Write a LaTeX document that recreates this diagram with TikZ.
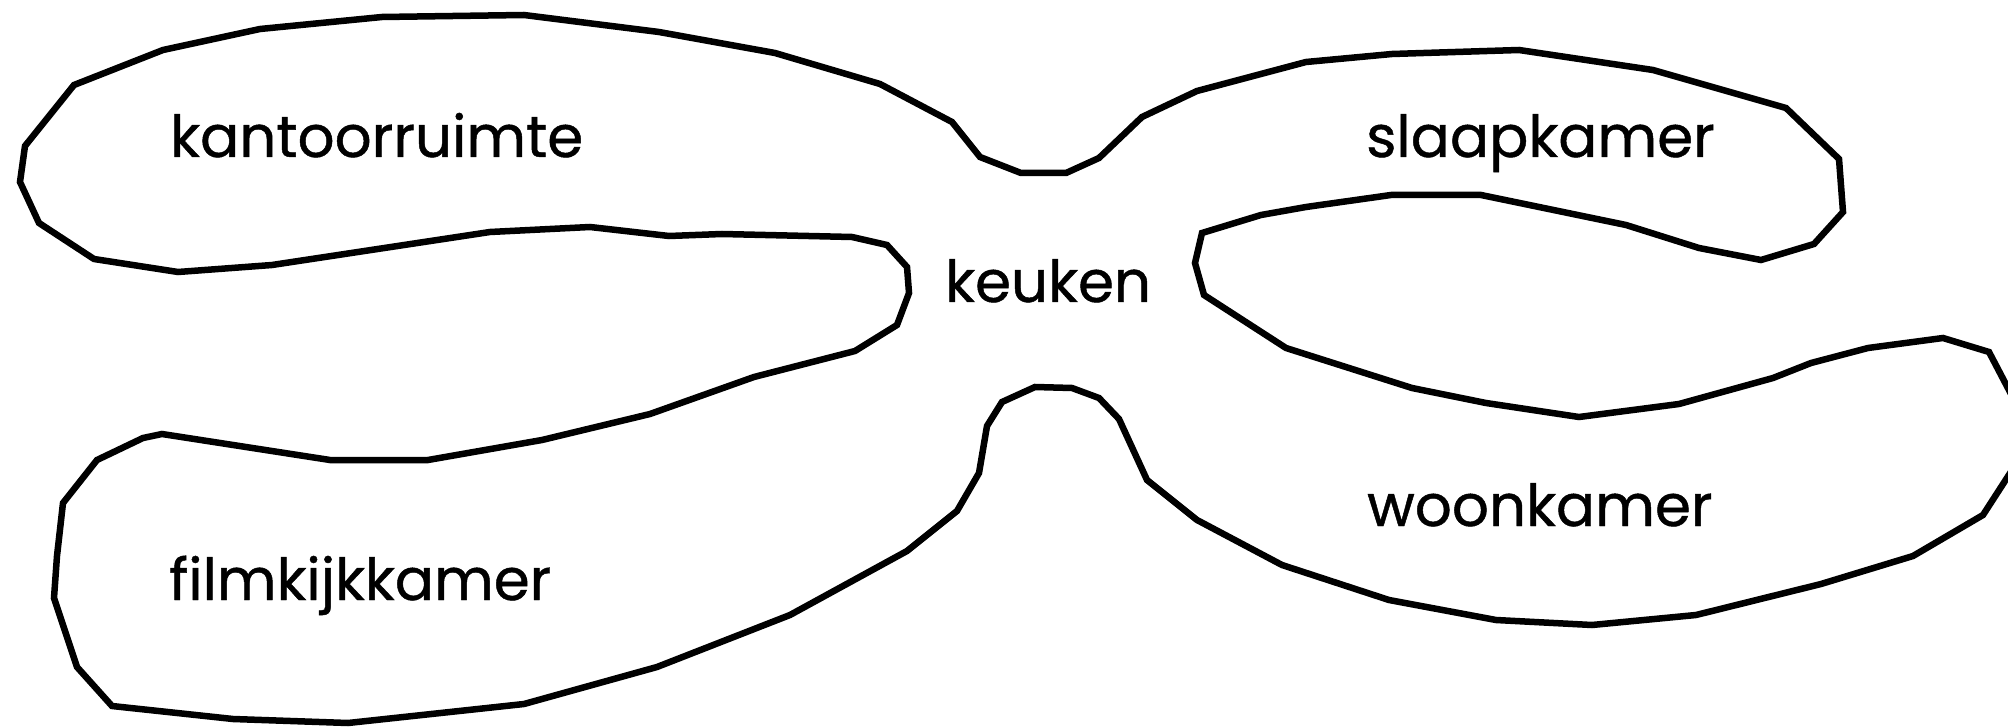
\documentclass[tikz,border=0pt]{standalone}
\usepackage{fontspec}
\setmainfont{Poppins}
\newfontfamily\roomfont{Poppins}[FakeBold=0.8]
\begin{document}
\begin{tikzpicture}[x=1pt,y=-1pt,
  outline/.style={draw=black,line width=6.5pt},
  room/.style={anchor=base west,inner sep=0pt,font=\roomfont\fontsize{58}{60}\selectfont}]
\useasboundingbox (0,0) rectangle (2008,727);
\begin{scope}
\clip (0,0) rectangle (2008,727);
\draw[outline] (1066,173) -- (1021,173) -- (980,157) -- (952,122) -- (880,84) -- (775,53)
 -- (659,32) -- (524,15) -- (382,17) -- (260,29) -- (163,50) -- (74,85) -- (25,146)
 -- (20,182) -- (39,223) -- (94,259) -- (178,272) -- (272,265) -- (490,232) -- (590,227)
 -- (669,236) -- (722,234) -- (852,237) -- (887,245) -- (907,267) -- (909,293) -- (897,325)
 -- (855,351) -- (754,377) -- (650,414) -- (542,440) -- (428,460) -- (330,460) -- (162,434)
 -- (143,438) -- (97,460) -- (63,503) -- (57,556) -- (54,598) -- (77,667) -- (112,706)
 -- (233,719) -- (348,723) -- (524,704) -- (657,667) -- (790,615) -- (907,551) -- (957,511)
 -- (979,473) -- (987,426) -- (1002,402) -- (1035,387) -- (1072,388) -- (1099,398)
 -- (1119,419) -- (1147,480) -- (1197,520) -- (1282,565) -- (1389,600) -- (1496,620)
 -- (1592,625) -- (1696,615) -- (1821,584) -- (1913,556) -- (1983,515) -- (2025,450)
 -- (2022,415) -- (1989,352) -- (1943,338) -- (1868,348) -- (1811,363) -- (1773,378)
 -- (1679,404) -- (1579,417) -- (1486,403) -- (1412,388) -- (1286,348) -- (1204,295)
 -- (1195,263) -- (1202,233) -- (1261,215) -- (1306,207) -- (1391,195) -- (1481,195)
 -- (1626,225) -- (1699,248) -- (1761,260) -- (1814,244) -- (1843,212) -- (1839,159)
 -- (1786,108) -- (1653,70) -- (1519,50) -- (1392,54) -- (1306,62) -- (1197,91)
 -- (1142,117) -- (1099,158) -- cycle;
\end{scope}
\node[room] (kantoor) at (170,157) {kantoorruimte};
\node[room] (keuken) at (945,302) {keuken};
\node[room] (slaap) at (1366,157) {slaapkamer};
\node[room] (film) at (169,600) {filmkijkkamer};
\node[room] (woon) at (1367,526) {woonkamer};
\end{tikzpicture}
\end{document}
